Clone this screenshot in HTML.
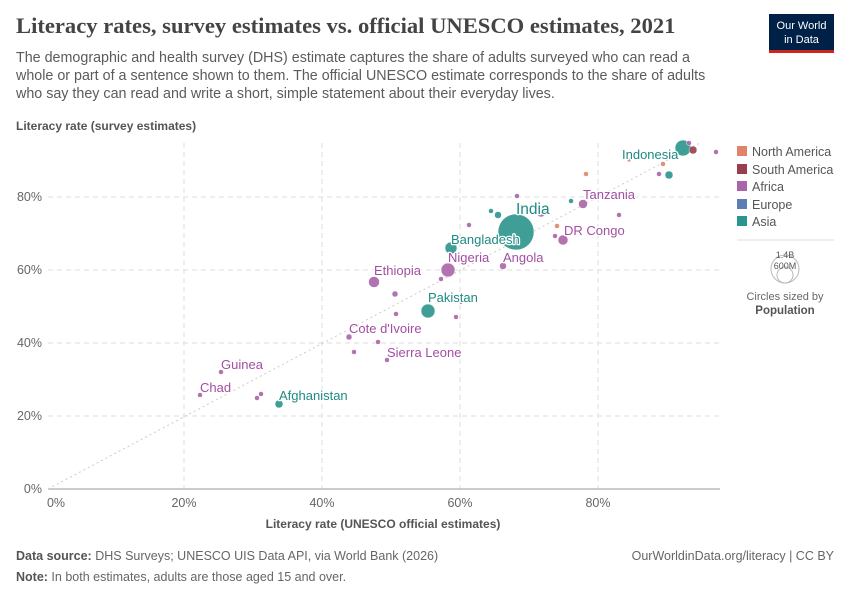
<!DOCTYPE html><html><head><meta charset="utf-8"><style>
body{margin:0;background:#fff;width:850px;height:600px;overflow:hidden;font-family:"Liberation Sans",sans-serif}
.lab text{paint-order:stroke;stroke:#fff;stroke-width:2.5px;stroke-linejoin:round}
</style></head><body>
<svg width="850" height="600" xmlns="http://www.w3.org/2000/svg" font-family="Liberation Sans, sans-serif">
<text x="16" y="33" font-family="Liberation Serif, serif" font-size="22.6" fill="#444" font-weight="bold">Literacy rates, survey estimates vs. official UNESCO estimates, 2021</text>
<g font-size="14.3" fill="#5b5b5b">
<text x="16" y="62">The demographic and health survey (DHS) estimate captures the share of adults surveyed who can read a</text>
<text x="16" y="80">whole or part of a sentence shown to them. The official UNESCO estimate corresponds to the share of adults</text>
<text x="16" y="98">who say they can read and write a short, simple statement about their everyday lives.</text>
</g>
<rect x="769" y="14" width="65" height="36" fill="#002147"/><rect x="769" y="50" width="65" height="3" fill="#ce261e"/>
<text x="801.5" y="29" font-size="11" fill="#fff" text-anchor="middle">Our World</text>
<text x="801.5" y="43" font-size="11" fill="#fff" text-anchor="middle">in Data</text>
<text x="16" y="130" font-size="12" font-weight="bold" fill="#555">Literacy rate (survey estimates)</text>
<g stroke="#ddd" stroke-dasharray="5,4">
<line x1="48" x2="720" y1="416" y2="416"/><line x1="48" x2="720" y1="343" y2="343"/><line x1="48" x2="720" y1="270" y2="270"/><line x1="48" x2="720" y1="197" y2="197"/>
<line x1="184" x2="184" y1="143" y2="489"/><line x1="322" x2="322" y1="143" y2="489"/><line x1="460" x2="460" y1="143" y2="489"/><line x1="598" x2="598" y1="143" y2="489"/>
</g>
<line x1="48" x2="720" y1="489" y2="489" stroke="#999"/>
<line x1="48" y1="489" x2="700" y2="143" stroke="#ccc" stroke-dasharray="2,3"/>
<g font-size="12.5" fill="#666">
<text x="42" y="493" text-anchor="end">0%</text><text x="42" y="420" text-anchor="end">20%</text><text x="42" y="347" text-anchor="end">40%</text><text x="42" y="274" text-anchor="end">60%</text><text x="42" y="201" text-anchor="end">80%</text>
<text x="56" y="507" text-anchor="middle">0%</text><text x="184" y="507" text-anchor="middle">20%</text><text x="322" y="507" text-anchor="middle">40%</text><text x="460" y="507" text-anchor="middle">60%</text><text x="598" y="507" text-anchor="middle">80%</text>
</g>
<text x="383" y="528" font-size="12" font-weight="bold" fill="#555" text-anchor="middle">Literacy rate (UNESCO official estimates)</text>
<g fill-opacity="0.9" stroke="#fff" stroke-width="0.5">
<circle cx="541" cy="212" r="5" fill="#a865a8"/>
<circle cx="516" cy="232" r="18" fill="#2a958c"/>
<circle cx="683" cy="148" r="8" fill="#2a958c"/>
<circle cx="689" cy="143" r="2.5" fill="#a865a8"/><circle cx="693" cy="150" r="4" fill="#983f4d"/><circle cx="716" cy="152" r="2.5" fill="#a865a8"/>
<circle cx="629" cy="160" r="2" fill="#e0836b"/><circle cx="663" cy="164" r="2.5" fill="#e0836b"/><circle cx="659" cy="174" r="2.5" fill="#a865a8"/><circle cx="669" cy="175" r="4" fill="#2a958c"/>
<circle cx="586" cy="174" r="2.5" fill="#e0836b"/><circle cx="517" cy="196" r="2.5" fill="#a865a8"/><circle cx="571" cy="201" r="2.5" fill="#2a958c"/><circle cx="583" cy="204" r="4.5" fill="#a865a8"/>
<circle cx="491" cy="211" r="2.5" fill="#2a958c"/><circle cx="498" cy="215" r="3.5" fill="#2a958c"/><circle cx="619" cy="215" r="2.5" fill="#a865a8"/>
<circle cx="469" cy="225" r="2.5" fill="#a865a8"/><circle cx="557" cy="226" r="2.5" fill="#e0836b"/><circle cx="555" cy="236" r="2.5" fill="#a865a8"/><circle cx="563" cy="240" r="5" fill="#a865a8"/>
<circle cx="451" cy="248" r="6" fill="#2a958c"/><circle cx="503" cy="266" r="3.5" fill="#a865a8"/><circle cx="448" cy="270" r="7" fill="#a865a8"/><circle cx="441" cy="279" r="2.5" fill="#a865a8"/>
<circle cx="374" cy="282" r="5.5" fill="#a865a8"/><circle cx="395" cy="294" r="3" fill="#a865a8"/><circle cx="428" cy="311" r="7" fill="#2a958c"/><circle cx="396" cy="314" r="2.5" fill="#a865a8"/><circle cx="456" cy="317" r="2.5" fill="#a865a8"/><circle cx="461" cy="303" r="1.5" fill="#a865a8"/>
<circle cx="349" cy="337" r="3" fill="#a865a8"/><circle cx="378" cy="342" r="2.5" fill="#a865a8"/><circle cx="354" cy="352" r="2.5" fill="#a865a8"/><circle cx="387" cy="360" r="2.5" fill="#a865a8"/>
<circle cx="221" cy="372" r="2.5" fill="#a865a8"/><circle cx="200" cy="395" r="2.5" fill="#a865a8"/><circle cx="257" cy="398" r="2.5" fill="#a865a8"/><circle cx="261" cy="394" r="2.5" fill="#a865a8"/><circle cx="279" cy="404" r="4" fill="#2a958c"/>
</g>
<g class="lab" font-size="13" fill="#a24fa2">
<text x="583" y="199">Tanzania</text><text x="564" y="235">DR Congo</text><text x="503" y="262">Angola</text><text x="448" y="262">Nigeria</text><text x="374" y="275">Ethiopia</text><text x="349" y="333">Cote d'Ivoire</text><text x="387" y="357">Sierra Leone</text><text x="221" y="369">Guinea</text><text x="200" y="392">Chad</text>
</g>
<g class="lab" font-size="13" fill="#1e8a83">
<text x="622" y="159">Indonesia</text><text x="516" y="214" font-size="15.5">India</text><text x="451" y="244">Bangladesh</text><text x="428" y="302">Pakistan</text><text x="279" y="400">Afghanistan</text>
</g>
<g font-size="12.5" fill="#555">
<rect x="737" y="146" width="10" height="10" fill="#e0836b"/><text x="752" y="156">North America</text>
<rect x="737" y="164" width="10" height="10" fill="#983f4d"/><text x="752" y="174">South America</text>
<rect x="737" y="181" width="10" height="10" fill="#a865a8"/><text x="752" y="191">Africa</text>
<rect x="737" y="199" width="10" height="10" fill="#5d7eb5"/><text x="752" y="209">Europe</text>
<rect x="737" y="216" width="10" height="10" fill="#2a958c"/><text x="752" y="226">Asia</text>
</g>
<line x1="737" x2="834" y1="240" y2="240" stroke="#ddd"/>
<circle cx="785" cy="269" r="14" fill="none" stroke="#bbb"/><circle cx="785" cy="275" r="8" fill="none" stroke="#bbb"/>
<text x="785" y="258" font-size="9" fill="#555" text-anchor="middle">1.4B</text>
<text x="785" y="269" font-size="9" fill="#555" text-anchor="middle">600M</text>
<text x="785" y="300" font-size="11" fill="#666" text-anchor="middle">Circles sized by</text>
<text x="785" y="314" font-size="11.5" font-weight="bold" fill="#555" text-anchor="middle">Population</text>
<g font-size="12.5" fill="#666">
<text x="16" y="560"><tspan font-weight="bold" fill="#555">Data source:</tspan> DHS Surveys; UNESCO UIS Data API, via World Bank (2026)</text>
<text x="834" y="560" text-anchor="end">OurWorldinData.org/literacy | CC BY</text>
<text x="16" y="581"><tspan font-weight="bold" fill="#555">Note:</tspan> In both estimates, adults are those aged 15 and over.</text>
</g>
</svg>
</body></html>
